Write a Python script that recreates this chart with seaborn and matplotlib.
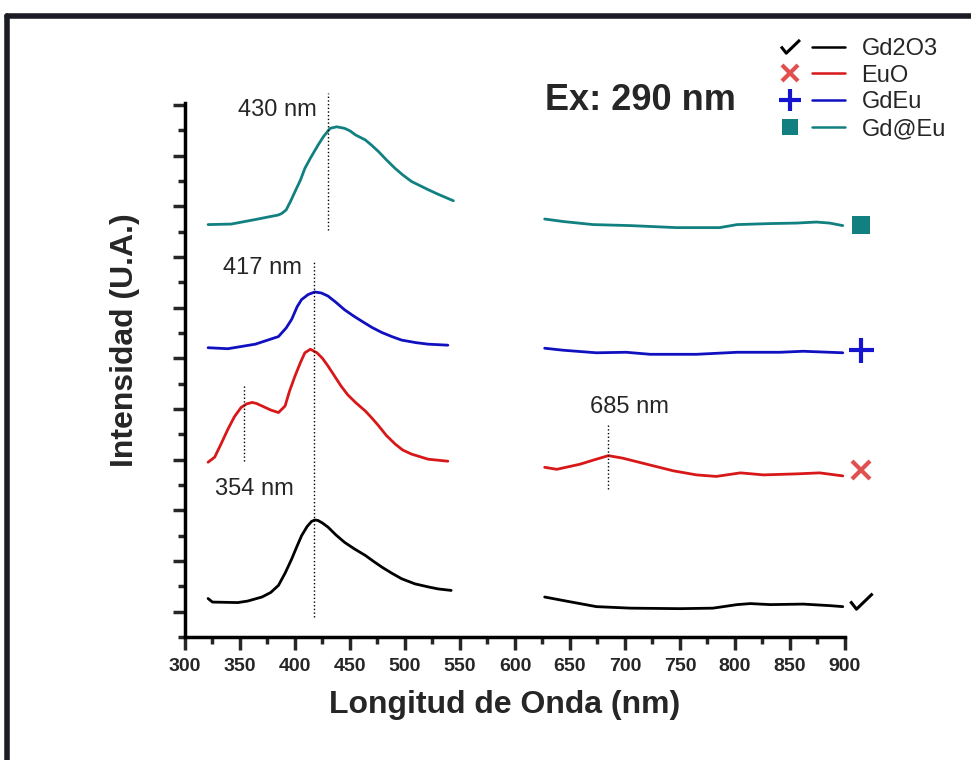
import numpy as np
import pandas as pd
import seaborn as sns
import matplotlib.pyplot as plt
from matplotlib.lines import Line2D
from matplotlib.path import Path
from matplotlib.legend_handler import HandlerTuple

sns.set_style("white")
plt.rcParams['font.family'] = ['Liberation Sans', 'DejaVu Sans']

# wavelength (nm) / intensity (a.u., offset per sample)
gd2o3_x1 = [321, 325, 348, 357, 370, 378, 385, 391, 397, 402, 406, 411, 415, 418, 421, 425, 430, 437,
            445, 454, 464, 471, 479, 488, 497, 509, 521, 530, 542]
gd2o3_y1 = [0.26, 0.19, 0.18, 0.21, 0.29, 0.38, 0.52, 0.76, 1.04, 1.30, 1.50, 1.68, 1.78, 1.81, 1.80, 1.75,
            1.67, 1.52, 1.37, 1.24, 1.11, 1.00, 0.88, 0.76, 0.65, 0.55, 0.49, 0.45, 0.42]
gd2o3_x2 = [627, 644, 674, 705, 750, 780, 802, 814, 832, 862, 886, 898]
gd2o3_y2 = [0.29, 0.22, 0.10, 0.07, 0.06, 0.07, 0.14, 0.16, 0.14, 0.15, 0.12, 0.10]

euo_x1 = [321, 327, 333, 339, 345, 351, 356, 361, 365, 370, 378, 385, 391, 395, 400, 405, 409, 414, 420,
          425, 430, 436, 442, 448, 455, 464, 470, 476, 483, 491, 498, 506, 521, 539]
euo_y1 = [2.95, 3.05, 3.32, 3.60, 3.85, 4.03, 4.10, 4.13, 4.11, 4.06, 3.98, 3.93, 4.06, 4.35, 4.65, 4.92,
          5.11, 5.18, 5.11, 5.00, 4.85, 4.65, 4.45, 4.28, 4.13, 3.96, 3.82, 3.67, 3.48, 3.31, 3.19, 3.11,
          3.01, 2.97]
euo_x2 = [627, 638, 659, 674, 685, 698, 720, 744, 765, 783, 805, 826, 856, 877, 898]
euo_y2 = [2.85, 2.81, 2.91, 3.01, 3.08, 3.03, 2.91, 2.78, 2.70, 2.67, 2.74, 2.70, 2.72, 2.74, 2.68]

gdeu_x1 = [321, 339, 364, 385, 392, 397, 402, 406, 412, 418, 424, 430, 437, 445, 453, 461, 470, 479, 488,
           497, 510, 521, 539]
gdeu_y1 = [5.21, 5.19, 5.28, 5.43, 5.60, 5.77, 6.02, 6.16, 6.26, 6.31, 6.29, 6.23, 6.11, 5.96, 5.84, 5.73,
           5.61, 5.51, 5.43, 5.36, 5.31, 5.28, 5.26]
gdeu_x2 = [627, 644, 674, 701, 723, 765, 802, 841, 862, 898]
gdeu_y2 = [5.20, 5.16, 5.11, 5.12, 5.08, 5.08, 5.12, 5.12, 5.14, 5.11]

gdateu_x1 = [321, 342, 364, 385, 388, 392, 396, 400, 405, 409, 414, 421, 426, 432, 438, 445, 450, 455,
             464, 470, 476, 483, 491, 498, 506, 521, 530, 544]
gdateu_y1 = [7.64, 7.65, 7.74, 7.83, 7.86, 7.93, 8.10, 8.29, 8.52, 8.75, 8.95, 9.21, 9.38, 9.54, 9.57,
             9.54, 9.49, 9.41, 9.31, 9.20, 9.08, 8.92, 8.75, 8.62, 8.49, 8.33, 8.24, 8.11]
gdateu_x2 = [627, 644, 671, 705, 747, 786, 802, 832, 856, 874, 886, 898]
gdateu_y2 = [7.75, 7.70, 7.64, 7.62, 7.58, 7.58, 7.64, 7.66, 7.67, 7.69, 7.67, 7.62]

samples = ['Gd2O3', 'EuO', 'GdEu', 'Gd@Eu']
colors = ['#000000', '#d81818', '#1010c0', '#128080']
marker_colors = ['#000000', '#e05050', '#1515d0', '#128080']
end_levels = [0.20, 2.80, 5.16, 7.64]

peaks = [430, 417, 354, 685]
peak_labels = ['430 nm', '417 nm', '354 nm', '685 nm']

check = Path([(-1.0, 0.1), (-0.45, -0.6), (1.0, 0.8)],
             [Path.MOVETO, Path.LINETO, Path.LINETO])
markers = [check, 'x', '+', 's']
marker_sizes = [16, 13, 18, 13]

segments = [
    ('Gd2O3', 'a', gd2o3_x1, gd2o3_y1), ('Gd2O3', 'b', gd2o3_x2, gd2o3_y2),
    ('EuO', 'a', euo_x1, euo_y1), ('EuO', 'b', euo_x2, euo_y2),
    ('GdEu', 'a', gdeu_x1, gdeu_y1), ('GdEu', 'b', gdeu_x2, gdeu_y2),
    ('Gd@Eu', 'a', gdateu_x1, gdateu_y1), ('Gd@Eu', 'b', gdateu_x2, gdateu_y2),
]
rows = []
for name, seg, xs, ys in segments:
    for x, y in zip(xs, ys):
        rows.append({'sample': name, 'seg': name + seg, 'wl': x, 'I': y})
df = pd.DataFrame(rows)

fig = plt.figure(figsize=(9.71, 7.60), dpi=100)
ax = fig.add_axes([0.1905, 0.1618, 0.6797, 0.7027])

sns.lineplot(data=df, x='wl', y='I', hue='sample', units='seg', estimator=None,
             palette=dict(zip(samples, colors)), linewidth=2.0, legend=False,
             sort=False, ax=ax)
for ln in ax.get_lines():
    ln.set_solid_joinstyle('round')
    ln.set_solid_capstyle('round')


def marker_kw(m, c, s):
    if isinstance(m, Path):
        return dict(marker=m, color=c, markersize=s, markerfacecolor='none', markeredgewidth=2.2)
    if m in ('x', '+'):
        return dict(marker=m, color=c, markersize=s, markeredgewidth=3)
    return dict(marker=m, color=c, markersize=s, markeredgewidth=0)


# end markers past the axis
for m, c, s, lvl in zip(markers, marker_colors, marker_sizes, end_levels):
    ax.plot([915], [lvl], linestyle='none', clip_on=False, **marker_kw(m, c, s))

# peak guide lines
ax.plot([peaks[0]] * 2, [7.54, 10.24], ls=':', color='k', lw=1, clip_on=False)
ax.plot([peaks[1]] * 2, [-0.10, 6.95], ls=':', color='k', lw=1)
ax.plot([peaks[2]] * 2, [2.97, 4.49], ls=':', color='k', lw=1)
ax.plot([peaks[3]] * 2, [2.42, 3.70], ls=':', color='k', lw=1)
ax.text(384, 9.90, peak_labels[0], fontsize=17, ha='center', va='center', clip_on=False)
ax.text(370, 6.79, peak_labels[1], fontsize=17, ha='center', va='center')
ax.text(363, 2.42, peak_labels[2], fontsize=17, ha='center', va='center')
ax.text(704, 4.04, peak_labels[3], fontsize=17, ha='center', va='center')

ax.text(714, 10.08, 'Ex: 290 nm', fontsize=26, fontweight='heavy', ha='center', va='center',
        clip_on=False)

ax.set_xlim(300, 900)
ax.set_ylim(-0.47, 10.04)
ax.set_xticks(np.arange(300, 901, 50))
ax.set_xticks(np.arange(325, 900, 50), minor=True)
ax.set_yticks(np.arange(0, 11, 1))
ax.set_yticks(np.arange(-0.5, 10, 1), minor=True)
ax.set_yticklabels([])
ax.tick_params(axis='x', which='major', direction='out', length=9, width=2.5, labelsize=14, pad=6, bottom=True)
ax.tick_params(axis='x', which='minor', direction='out', length=5, width=2.5, bottom=True)
ax.tick_params(axis='y', which='major', direction='out', length=9, width=2.5, left=True)
ax.tick_params(axis='y', which='minor', direction='out', length=5, width=2.5, left=True)
for lab in ax.get_xticklabels():
    lab.set_fontweight('bold')

for side in ['top', 'right']:
    ax.spines[side].set_visible(False)
for side in ['left', 'bottom']:
    ax.spines[side].set_linewidth(2.5)
    ax.spines[side].set_color('black')

ax.set_xlabel('Longitud de Onda (nm)', fontsize=23, fontweight='bold')
ax.set_ylabel('Intensidad (U.A.)', fontsize=23, fontweight='bold')
ax.yaxis.set_label_coords(-0.068, 0.556)
ax.xaxis.set_label_coords(0.485, -0.1)

handles = []
for m, c, lc, s in zip(markers, marker_colors, colors, marker_sizes):
    kw = marker_kw(m, c, s * 0.85)
    mk = Line2D([], [], linestyle='none', **kw)
    ln = Line2D([], [], color=lc, lw=1.8)
    handles.append((mk, ln))
fig.legend(handles, samples, handler_map={tuple: HandlerTuple(ndivide=None, pad=0.25)},
           loc='upper right', bbox_to_anchor=(0.996, 0.978), frameon=False,
           fontsize=17, handlelength=3.0, labelspacing=0.2, handletextpad=0.7)

# dark frame on top and left
fig.add_artist(Line2D([0.0075, 1.0], [0.9795, 0.9795], color='#1c1c24', lw=4, transform=fig.transFigure))
fig.add_artist(Line2D([0.0075, 0.0075], [0.0, 0.9795], color='#1c1c24', lw=4, transform=fig.transFigure))

fig.savefig('out.png', dpi=100)
